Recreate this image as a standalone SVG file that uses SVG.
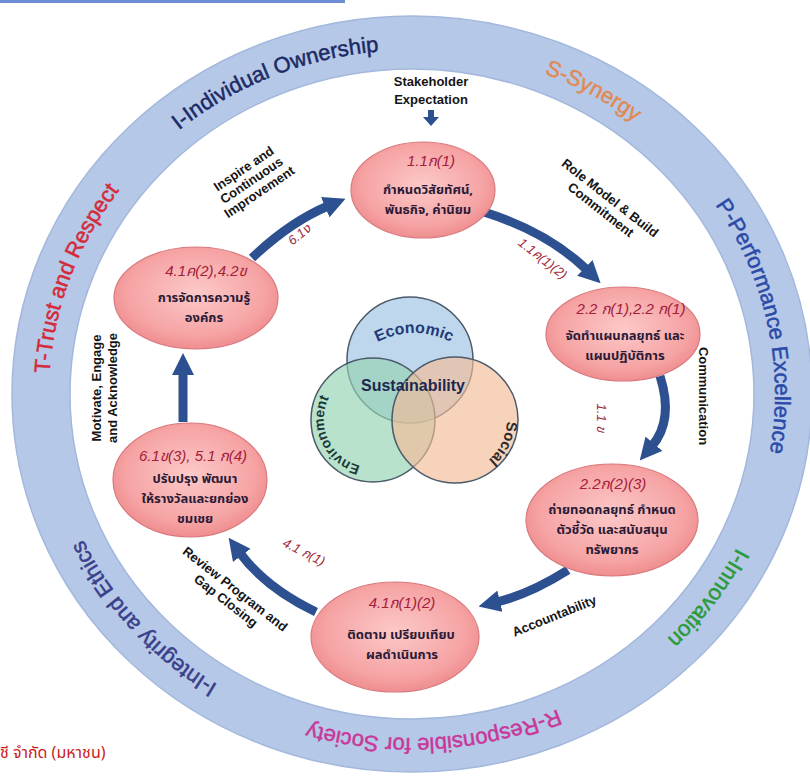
<svg xmlns="http://www.w3.org/2000/svg" width="810" height="779" viewBox="0 0 810 779">
<style>
.ring{font-family:"Liberation Sans",Arial,sans-serif;font-size:22px;stroke-width:0.5}
.lbl{font-family:"Liberation Sans",Arial,sans-serif;font-size:13px;font-weight:bold;fill:#151515}
.code{font-family:"Liberation Sans","Noto Sans Thai",sans-serif;font-size:15px;fill:#a4203c;font-style:italic;font-weight:normal}
.th{font-family:"Noto Sans Thai","Loma","Garuda","DejaVu Sans",sans-serif;font-size:13px;font-weight:bold;fill:#2a1a36}
.albl{font-family:"Liberation Sans","Noto Sans Thai",sans-serif;font-size:13px;fill:#a02838;font-style:italic}
.node{fill:url(#ng);stroke:#d9797e;stroke-width:1.2}
.arr{fill:none;stroke:#2c5090;stroke-width:9;marker-end:url(#ah)}
.venn{stroke:#4a5a6a;stroke-width:1.5}
.vt{font-family:"Liberation Sans",Arial,sans-serif;font-weight:bold}
</style>
<defs>
<radialGradient id="ng" cx="50%" cy="45%" r="60%">
<stop offset="0" stop-color="#fcc9c8"/>
<stop offset="0.7" stop-color="#f6a3a4"/>
<stop offset="1" stop-color="#ec8587"/>
</radialGradient>
<marker id="ah" viewBox="0 0 22 22" refX="3" refY="11" markerWidth="22" markerHeight="22" markerUnits="userSpaceOnUse" orient="auto">
<path d="M0,0 L22,11 L0,22 z" fill="#2c5090"/>
</marker>
<path id="rp" d="M 49,394 A 363 344 0 1 1 775,394 A 363 344 0 1 1 49,394"/>
<path id="ecop" d="M 358,354 Q 414,312 470,354"/>
<path id="envp" d="M 368,467 A 48 48 0 0 1 333,391"/>
<path id="socp" d="M 504,405 A 50 50 0 0 1 474,468"/>
</defs>
<rect x="0" y="0" width="810" height="779" fill="#fff"/>
<rect x="0" y="0" width="345" height="3" fill="#6d8fd8"/>

<g id="ring">
<path fill="#b5c8e7" stroke="#a3b8dc" stroke-width="1.5" fill-rule="evenodd" d="M 12,394 A 400 378 0 1 1 812,394 A 400 378 0 1 1 12,394 Z M 70,394 A 342 325 0 1 0 754,394 A 342 325 0 1 0 70,394 Z"/>
<text class="ring" fill="#d42a3a" stroke="#d42a3a"><textPath href="#rp" startOffset="5.4%" text-anchor="middle">T-Trust and Respect</textPath></text>
<text class="ring" fill="#1c2a66" stroke="#1c2a66"><textPath href="#rp" startOffset="18.6%" text-anchor="middle">I-Individual Ownership</textPath></text>
<text class="ring" fill="#e08a56" stroke="#e08a56"><textPath href="#rp" startOffset="33.4%" text-anchor="middle">S-Synergy</textPath></text>
<text class="ring" fill="#2a4aa8" stroke="#2a4aa8"><textPath href="#rp" startOffset="46.8%" text-anchor="middle">P-Performance Excellence</textPath></text>
<text class="ring" fill="#2a9a3a" stroke="#2a9a3a"><textPath href="#rp" startOffset="59.8%" text-anchor="middle">I-Innovation</textPath></text>
<text class="ring" fill="#c8389a" stroke="#c8389a"><textPath href="#rp" startOffset="74%" text-anchor="middle">R-Responsible for Society</textPath></text>
<text class="ring" fill="#3a3f8a" stroke="#3a3f8a"><textPath href="#rp" startOffset="88.7%" text-anchor="middle">I-Integrity and Ethics</textPath></text>
</g>

<g id="venn">
<circle class="venn" cx="410" cy="360" r="63" fill="#a9c9e6" fill-opacity="0.75"/>
<circle class="venn" cx="373" cy="420" r="62" fill="#93d3b0" fill-opacity="0.65"/>
<circle class="venn" cx="455" cy="420" r="63" fill="#f3bc98" fill-opacity="0.65"/>
<text class="vt" font-size="16" fill="#203b78"><textPath href="#ecop" startOffset="50%" text-anchor="middle">Economic</textPath></text>
<text class="vt" font-size="14" fill="#1a3a3a"><textPath href="#envp" startOffset="50%" text-anchor="middle">Environment</textPath></text>
<text class="vt" font-size="15" fill="#2a2a2a"><textPath href="#socp" startOffset="50%" text-anchor="middle">Social</textPath></text>
<text x="413" y="391" text-anchor="middle" font-family="Liberation Sans,Arial,sans-serif" font-size="16" font-weight="bold" fill="#1c2850">Sustainability</text>
</g>

<g id="connectors">
<path class="arr" d="M 252,258 Q 290,222 328,206"/>
<path class="arr" d="M 484,212 Q 548,232 587,270"/>
<path class="arr" d="M 660,376 Q 674,420 652,446"/>
<path class="arr" d="M 568,570 Q 530,594 497,602"/>
<path class="arr" d="M 316,612 Q 266,588 240,553"/>
<path class="arr" d="M 183,422 L 183,372"/>
<path d="M 428,110 h6 v7 h5 l-8,9 l-8,-9 h5 z" fill="#2c5090"/>
<text class="albl" transform="translate(302,238) rotate(-38)" text-anchor="middle">6.1ง</text>
<text class="albl" transform="translate(540,262) rotate(38)" text-anchor="middle">1.1ค(1)(2)</text>
<text class="albl" transform="translate(597,418) rotate(90)" text-anchor="middle">1.1 ข</text>
<text class="albl" transform="translate(302,556) rotate(27)" text-anchor="middle">4.1 ก(1)</text>
</g>

<g id="labels">
<text class="lbl" x="431" y="86" text-anchor="middle" font-size="15" font-weight="normal">Stakeholder</text>
<text class="lbl" x="431" y="104" text-anchor="middle" font-size="15" font-weight="normal">Expectation</text>
<text class="lbl" transform="translate(254,184) rotate(-34)" text-anchor="middle" font-size="13.5"><tspan x="0" y="-14">Inspire and</tspan><tspan x="0" y="0">Continuous</tspan><tspan x="0" y="14">Improvement</tspan></text>
<text class="lbl" transform="translate(603,207) rotate(38)" text-anchor="middle" font-size="13.5"><tspan x="0" y="-7">Role Model &amp; Build</tspan><tspan x="0" y="8">Commitment</tspan></text>
<text class="lbl" transform="translate(699,396) rotate(90)" text-anchor="middle" font-size="12">Communication</text>
<text class="lbl" transform="translate(556,620) rotate(-22)" text-anchor="middle" font-size="11.5">Accountability</text>
<text class="lbl" transform="translate(228,598) rotate(38)" text-anchor="middle" font-size="12.5"><tspan x="0" y="-7">Review Program and</tspan><tspan x="0" y="8">Gap Closing</tspan></text>
<text class="lbl" transform="translate(110,388) rotate(-90)" text-anchor="middle" font-size="12"><tspan x="0" y="-9">Motivate, Engage</tspan><tspan x="0" y="7">and Acknowledge</tspan></text>
</g>

<g id="n1">
<ellipse class="node" cx="423" cy="190" rx="72" ry="48"/>
<text class="th" text-anchor="middle"><tspan class="code" x="431" y="166" font-style="normal">1.1ก(1)</tspan><tspan x="428" y="194">กำหนดวิสัยทัศน์,</tspan><tspan x="428" y="214">พันธกิจ, ค่านิยม</tspan></text>
</g>
<g id="n2">
<ellipse class="node" cx="623" cy="334" rx="77" ry="47"/>
<text class="th" text-anchor="middle"><tspan class="code" x="631" y="314">2.2 ก(1),2.2 ก(1)</tspan><tspan x="625" y="340">จัดทำแผนกลยุทธ์ และ</tspan><tspan x="625" y="360">แผนปฏิบัติการ</tspan></text>
</g>
<g id="n3">
<ellipse class="node" cx="612" cy="520" rx="86" ry="56"/>
<text class="th" text-anchor="middle"><tspan class="code" x="613" y="489">2.2ก(2)(3)</tspan><tspan x="612" y="514">ถ่ายทอดกลยุทธ์ กำหนด</tspan><tspan x="612" y="534">ตัวชี้วัด และสนับสนุน</tspan><tspan x="612" y="554">ทรัพยากร</tspan></text>
</g>
<g id="n4">
<ellipse class="node" cx="395" cy="637" rx="84" ry="55"/>
<text class="th" text-anchor="middle"><tspan class="code" x="402" y="608">4.1ก(1)(2)</tspan><tspan x="401" y="639">ติดตาม เปรียบเทียบ</tspan><tspan x="402" y="659">ผลดำเนินการ</tspan></text>
</g>
<g id="n5">
<ellipse class="node" cx="190" cy="480" rx="77" ry="57"/>
<text class="th" text-anchor="middle"><tspan class="code" x="193" y="461">6.1ข(3), 5.1 ก(4)</tspan><tspan x="195" y="483">ปรับปรุง พัฒนา</tspan><tspan x="195" y="503">ให้รางวัลและยกย่อง</tspan><tspan x="195" y="523">ชมเชย</tspan></text>
</g>
<g id="n6">
<ellipse class="node" cx="196" cy="298" rx="82" ry="51"/>
<text class="th" text-anchor="middle"><tspan class="code" x="206" y="276">4.1ค(2),4.2ข</tspan><tspan x="204" y="302">การจัดการความรู้</tspan><tspan x="204" y="322">องค์กร</tspan></text>
</g>

<text x="0" y="758" font-family="Noto Sans Thai,Loma,Garuda,DejaVu Sans,sans-serif" font-size="16" fill="#cc2020">ชี จำกัด (มหาชน)</text>
</svg>
